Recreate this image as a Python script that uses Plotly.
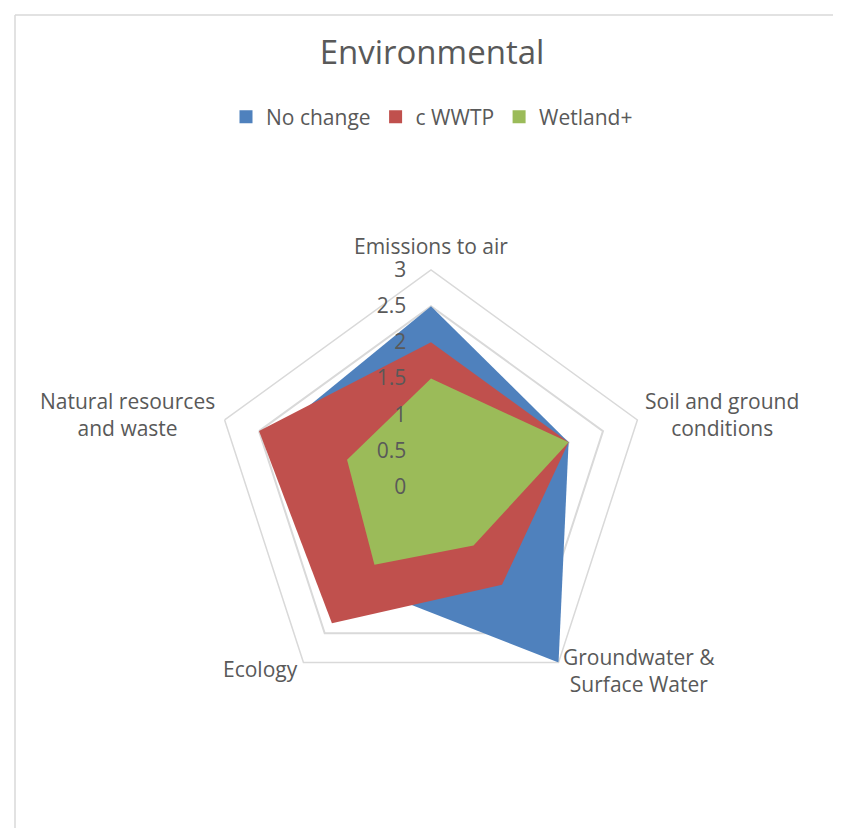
import math
import plotly.graph_objects as go

categories = ["Emissions to air", "Soil and ground<br>conditions", "Groundwater &<br>Surface Water",
              "Ecology", "Natural resources<br>and waste"]
series_names = ["No change", "c WWTP", "Wetland+"]
no_change = [2.5, 2.0, 3.0, 1.67, 2.3]
c_wwtp = [2.0, 2.0, 1.67, 2.33, 2.5]
wetland = [1.5, 2.0, 1.0, 1.33, 1.22]
colors = ["#4F81BD", "#C0504D", "#9BBB59"]
radial_ticks = [0, 0.5, 1, 1.5, 2, 2.5, 3]

W, H = 841, 828
cx, cy, R = 423, 479, 217          # domain placement
vx, vy = 430, 486                  # visual centre of the polar area

fig = go.Figure()
for name, vals, col in zip(series_names, [no_change, c_wwtp, wetland], colors):
    fig.add_trace(go.Scatterpolar(
        r=vals + vals[:1], theta=categories + categories[:1], name=name,
        mode="none", fill="toself", fillcolor=col, opacity=1, showlegend=False,
    ))
# legend entries with square swatches
for name, col in zip(series_names, colors):
    fig.add_trace(go.Scatterpolar(
        r=[None], theta=[categories[0]], name=name, mode="markers",
        marker=dict(symbol="square", size=13, color=col), showlegend=True,
    ))

# category labels placed just outside the outer pentagon
label_style = [  # (dx, dy, xanchor, yanchor) relative to each outer vertex
    (-7, -15, "center", "bottom"),
    (-1, -12, "left", "middle"),
    (-5, 1, "left", "middle"),
    (-10, -1, "right", "middle"),
    (-15, -12, "right", "middle"),
]
annotations = []
for i, (cat, (dx, dy, xa, ya)) in enumerate(zip(categories, label_style)):
    ang = math.radians(90 - 72 * i)
    px = vx + R * math.cos(ang) + dx
    py = vy - R * math.sin(ang) + dy
    annotations.append(dict(text=cat, x=px / W, y=1 - py / H, xref="paper", yref="paper",
                            xanchor=xa, yanchor=ya, align="center", showarrow=False,
                            font=dict(size=21, color="#595959", family="Open Sans")))

fig.update_layout(
    width=W, height=H,
    margin=dict(l=0, r=0, t=0, b=0),
    paper_bgcolor="white", plot_bgcolor="white",
    font=dict(family="Open Sans", color="#595959", size=21),
    title=dict(text="Environmental", x=424 / W, xanchor="center", y=1 - 44 / H, yanchor="middle",
               font=dict(size=33, color="#595959")),
    legend=dict(orientation="h", x=424 / W, xanchor="center", y=1 - 109 / H, yanchor="middle",
                font=dict(size=21, color="#595959"), traceorder="normal"),
    polar=dict(
        domain=dict(x=[(cx - R) / W, (cx + R) / W], y=[(H - cy - R) / H, (H - cy + R) / H]),
        gridshape="linear",
        bgcolor="white",
        angularaxis=dict(rotation=90, direction="clockwise", showgrid=False, showline=True,
                         linecolor="#d9d9d9", linewidth=1.5, ticks="", layer="below traces",
                         showticklabels=False),
        radialaxis=dict(range=[0, 3], tickvals=radial_ticks, showline=False, ticks="outside",
                        ticklen=17, tickcolor="rgba(0,0,0,0)",
                        gridcolor="#d9d9d9", gridwidth=1.5, angle=90, tickangle=90,
                        side="counterclockwise", layer="above traces",
                        tickfont=dict(size=21, color="#595959")),
    ),
    annotations=annotations,
    shapes=[
        dict(type="line", xref="paper", yref="paper", x0=7 / W, x1=1, y0=1 - 7 / H, y1=1 - 7 / H,
             line=dict(color="#d9d9d9", width=1.5)),
        dict(type="line", xref="paper", yref="paper", x0=7 / W, x1=7 / W, y0=0, y1=1 - 7 / H,
             line=dict(color="#d9d9d9", width=1.5)),
    ],
)

fig.write_html("out.html")
